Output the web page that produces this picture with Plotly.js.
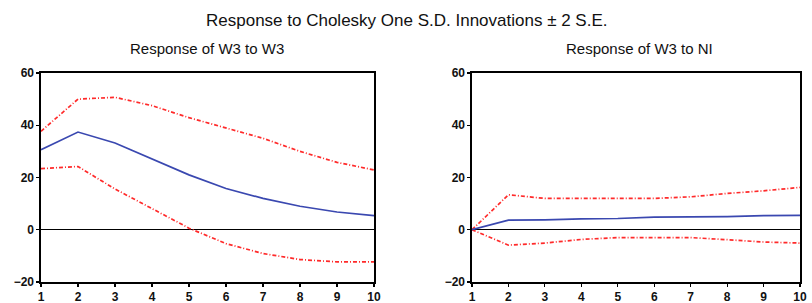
<!DOCTYPE html>
<html><head><meta charset="utf-8">
<script src="https://cdn.plot.ly/plotly-3.0.1.min.js"></script>
<style>body{margin:0;background:#fff}#c{width:812px;height:303px}</style>
</head><body><div id="c"></div>
<script>
const periods = [1,2,3,4,5,6,7,8,9,10];
const w3w3_resp  = [30.6, 37.4, 33.2, 27.2, 21.0, 15.8, 12.0, 9.0, 6.8, 5.4];
const w3w3_upper = [37.7, 50.0, 50.7, 47.5, 42.9, 39.0, 35.0, 30.0, 25.8, 22.9];
const w3w3_lower = [23.4, 24.2, 15.6, 8.0, 0.6, -5.3, -9.1, -11.4, -12.3, -12.3];
const w3ni_resp  = [0.0, 3.7, 3.8, 4.2, 4.3, 4.8, 4.9, 5.0, 5.4, 5.5];
const w3ni_upper = [0.0, 13.4, 12.0, 12.0, 12.0, 12.0, 12.6, 13.9, 14.9, 16.2];
const w3ni_lower = [0.0, -5.9, -5.1, -3.7, -3.0, -3.0, -3.0, -3.8, -4.7, -5.1];
const yTicks = [-20, 0, 20, 40, 60];
const mainTitle = "Response to Cholesky One S.D. Innovations \u00b1 2 S.E.";
const subTitles = ["Response of W3 to W3", "Response of W3 to NI"];

const blue = '#3a48b0', red = '#ff2a2a';
const FONT = 'Liberation Sans, Arial, sans-serif';
function tr(y, xa, ya, color, dash){
  return {x: periods, y: y, xaxis: xa, yaxis: ya, mode: 'lines', type: 'scatter',
    line: {color: color, width: 1.7, dash: dash || 'solid'}, hoverinfo: 'skip'};
}
const data = [
  tr(w3w3_upper,'x','y',red,'4px,2px,1px,2px'), tr(w3w3_lower,'x','y',red,'4px,2px,1px,2px'), tr(w3w3_resp,'x','y',blue),
  tr(w3ni_upper,'x2','y2',red,'4px,2px,1px,2px'), tr(w3ni_lower,'x2','y2',red,'4px,2px,1px,2px'), tr(w3ni_resp,'x2','y2',blue)
];
const H = 303, W = 812;
function ax(domain, extra){
  return Object.assign({domain: domain, showgrid: false, zeroline: false, showline: true, mirror: true,
    linecolor: '#000', linewidth: 1.6, ticks: 'outside', ticklen: 3, tickwidth: 1.2, tickcolor: '#000',
    tickfont: {family: FONT, size: 12, color: '#111', weight: 'bold'}, fixedrange: true}, extra);
}
const yd = [1 - 282/H, 1 - 73/H];
const layout = {
  width: W, height: H, margin: {l:0, r:0, t:0, b:0}, showlegend: false,
  paper_bgcolor: '#fff', plot_bgcolor: '#fff',
  xaxis: ax([41/W, 374/W], {range: [1,10], tickvals: periods, anchor: 'y'}),
  yaxis: ax(yd, {range: [-20,60], tickvals: yTicks, anchor: 'x', zeroline: true, zerolinecolor: '#000', zerolinewidth: 1.3}),
  xaxis2: ax([472/W, 800/W], {range: [1,10], tickvals: periods, anchor: 'y2'}),
  yaxis2: ax(yd, {range: [-20,60], tickvals: yTicks, anchor: 'x2', zeroline: true, zerolinecolor: '#000', zerolinewidth: 1.3}),
  annotations: [
    {text: mainTitle, xref: 'paper', yref: 'paper', x: 406/W, y: 1 - 20/H, showarrow: false,
     font: {family: FONT, size: 17, color: '#111'}, xanchor: 'center', yanchor: 'middle'},
    {text: subTitles[0], xref: 'paper', yref: 'paper', x: 207/W, y: 1 - 49/H, showarrow: false,
     font: {family: FONT, size: 15, color: '#111'}, xanchor: 'center', yanchor: 'middle'},
    {text: subTitles[1], xref: 'paper', yref: 'paper', x: 639/W, y: 1 - 49/H, showarrow: false,
     font: {family: FONT, size: 15, color: '#111'}, xanchor: 'center', yanchor: 'middle'}
  ]
};
Plotly.newPlot('c', data, layout, {staticPlot: true});
</script></body></html>
